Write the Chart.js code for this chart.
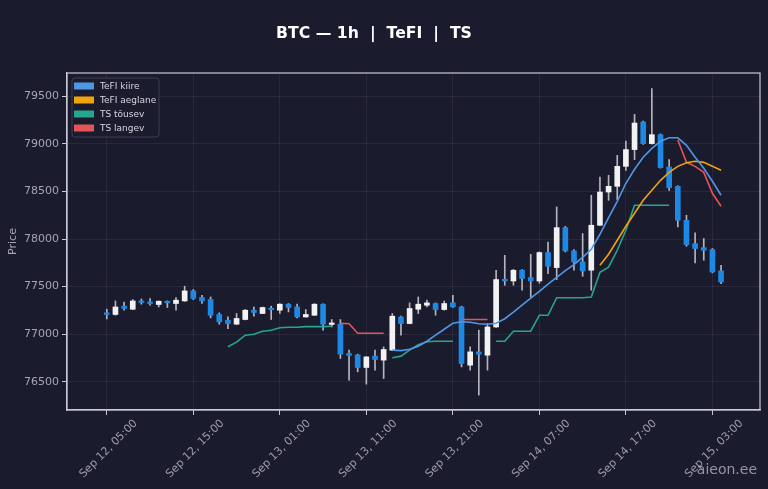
<!DOCTYPE html>
<html>
<head>
<meta charset="utf-8">
<script src="https://cdn.jsdelivr.net/npm/chart.js@4.4.1/dist/chart.umd.min.js"></script>
<style>
html, body { margin: 0; padding: 0; background: #1b1b2e; }
canvas { display: block; }
</style>
</head>
<body>
<canvas id="myChart" width="768" height="489"></canvas>
<script>
// hourly candles, Sep 12 05:00 .. Sep 15 04:00 (hour index from the first candle)
var hours = [0, 1, 2, 3, 4, 5, 6, 7, 8, 9, 10, 11, 12, 13, 14, 15, 16, 17, 18, 19, 20, 21, 22, 23,
    24, 25, 26, 27, 28, 29, 30, 31, 32, 33, 34, 35, 36, 37, 38, 39, 40, 41, 42, 43, 44, 45, 46, 47,
    48, 49, 50, 51, 52, 53, 54, 55, 56, 57, 58, 59, 60, 61, 62, 63, 64, 65, 66, 67, 68, 69, 70, 71];

var opens = [77224, 77207, 77294, 77262, 77349, 77339, 77312, 77346, 77322, 77349,
    77455, 77385, 77364, 77207, 77147, 77105, 77154, 77252, 77217, 77268,
    77252, 77315, 77286, 77181, 77199, 77315, 77102, 77105, 76797, 76782,
    76650, 76769, 76727, 76832, 77181, 77112, 77262, 77304, 77322, 77259,
    77329, 77286, 76674, 76814, 76779, 77076, 77577, 77559, 77672, 77595,
    77559, 77858, 77700, 78120, 77875, 77759, 77672, 78145, 78494, 78554,
    78764, 78940, 79230, 79003, 79097, 78757, 78554, 78197, 77952, 77910,
    77889, 77665];
var highs = [77262, 77349, 77336, 77364, 77370, 77375, 77350, 77350, 77385, 77504,
    77469, 77409, 77391, 77224, 77181, 77217, 77259, 77286, 77285, 77294,
    77322, 77322, 77315, 77259, 77320, 77320, 77154, 77154, 76832, 76790,
    76765, 76832, 76866, 77217, 77189, 77329, 77391, 77357, 77329, 77349,
    77409, 77294, 76866, 77042, 77112, 77672, 77829, 77680, 77680, 77840,
    77865, 77969, 78337, 78134, 77890, 78057, 78460, 78652, 78670, 78880,
    79030, 79310, 79240, 79580, 79105, 78835, 78560, 78250, 78064, 78005,
    77900, 77724];
var lows = [77160, 77199, 77252, 77259, 77315, 77304, 77286, 77280, 77252, 77345,
    77364, 77322, 77171, 77105, 77059, 77100, 77150, 77189, 77217, 77154,
    77217, 77234, 77171, 77178, 77195, 77042, 77076, 76744, 76517, 76604,
    76475, 76622, 76534, 76828, 76989, 77108, 77217, 77286, 77199, 77252,
    77282, 76656, 76622, 76359, 76622, 77070, 77514, 77514, 77462, 77391,
    77535, 77637, 77574, 77864, 77672, 77609, 77462, 78140, 78407, 78414,
    78722, 78835, 78995, 78998, 78745, 78512, 78127, 77924, 77749, 77777,
    77644, 77532];
var closes = [77207, 77286, 77270, 77349, 77333, 77322, 77346, 77329, 77357, 77455,
    77375, 77349, 77199, 77129, 77112, 77165, 77252, 77228, 77280, 77257,
    77315, 77280, 77181, 77207, 77315, 77105, 77118, 76790, 76776, 76650,
    76761, 76734, 76839, 77189, 77112, 77270, 77315, 77329, 77259, 77322,
    77286, 76692, 76814, 76790, 77076, 77574, 77559, 77672, 77585, 77559,
    77858, 77714, 78120, 77875, 77759, 77665, 78145, 78494, 78554, 78764,
    78940, 79219, 79003, 79097, 78751, 78541, 78197, 77942, 77900, 77882,
    77654, 77549];

// indicators, one value per hour (null = not drawn)
var tefiFast = [null, null, null, null, null, null, null, null, null, null, null, null,
    null, null, null, null, null, null, null, null, null, null, null, null,
    null, null, null, null, null, null, null, null, null, 76832, 76827, 76842,
    76874, 76926, 76989, 77052, 77115, 77131, 77126, 77110, 77105, 77115, 77162, 77231,
    77304, 77378, 77451, 77525, 77598, 77667, 77730, 77808, 77892, 78050, 78226, 78396,
    78586, 78733, 78859, 78953, 79027, 79064, 79064, 78985, 78859, 78743, 78607, 78460];
var tefiSlow = [null, null, null, null, null, null, null, null, null, null, null, null,
    null, null, null, null, null, null, null, null, null, null, null, null,
    null, null, null, null, null, null, null, null, null, null, null, null,
    null, null, null, null, null, null, null, null, null, null, null, null,
    null, null, null, null, null, null, null, null, null, 77724, 77840, 77987,
    78134, 78271, 78407, 78512, 78617, 78701, 78764, 78801, 78817, 78806, 78764, 78722];
var tsUp = [null, null, null, null, null, null, null, null, null, null, null, null,
    null, null, 76868, 76916, 76989, 77000, 77031, 77042, 77068, 77073, 77073, 77079,
    77079, 77079, 77084, null, null, null, null, null, null, 76753, 76769, 76832,
    76889, 76921, 76926, 76926, 76926, null, null, null, null, 76926, 76926, 77031,
    77031, 77031, 77199, 77199, 77383, 77383, 77383, 77383, 77390, 77651, 77704, 77882,
    78092, 78355, 78355, 78355, 78355, 78355, null, null, null, null, null, null];
var tsDown = [null, null, null, null, null, null, null, null, null, null, null, null,
    null, null, null, null, null, null, null, null, null, null, null, null,
    null, null, null, 77115, 77110, 77010, 77010, 77010, 77010, null, null, null,
    null, null, null, null, null, 77154, 77154, 77154, 77154, null, null, null,
    null, null, null, null, null, null, null, null, null, null, null, null,
    null, null, null, null, null, null, 79040, 78806, 78764, 78701, 78481, 78344];

var xTickHours = [0, 10, 20, 30, 40, 50, 60, 70];
var xTickLabels = ['Sep 12, 05:00', 'Sep 12, 15:00', 'Sep 13, 01:00', 'Sep 13, 11:00',
    'Sep 13, 21:00', 'Sep 14, 07:00', 'Sep 14, 17:00', 'Sep 15, 03:00'];
var yTicks = [76500, 77000, 77500, 78000, 78500, 79000, 79500];

var BG = '#1b1b2e';
var UP = '#f2f2f2';
var DOWN = '#1e88e5';

var bodies = hours.map(function (h, i) { return [opens[i], closes[i]]; });
var wicks = hours.map(function (h, i) { return [lows[i], highs[i]]; });
var bodyColors = hours.map(function (h, i) { return closes[i] >= opens[i] ? UP : DOWN; });

var chartDecor = {
    id: 'chartDecor',
    beforeDraw: function (chart) {
        var ctx = chart.ctx;
        ctx.save();
        ctx.fillStyle = BG;
        ctx.fillRect(0, 0, chart.width, chart.height);
        ctx.restore();
    },
    afterDraw: function (chart) {
        var ctx = chart.ctx;
        var a = chart.chartArea;
        ctx.save();
        // frame
        ctx.strokeStyle = '#c8c8d8';
        ctx.lineWidth = 1.2;
        ctx.strokeRect(a.left, a.top, a.right - a.left, a.bottom - a.top);

        // title
        ctx.fillStyle = '#ffffff';
        ctx.font = 'bold 15.7px "DejaVu Sans"';
        ctx.textAlign = 'center';
        ctx.textBaseline = 'alphabetic';
        ctx.fillText('BTC \u2014 1h  |  TeFI  |  TS', 374, 38);

        // legend
        var lx = a.left + 5, ly = a.top + 5, lw = 87, lh = 59;
        ctx.beginPath();
        ctx.roundRect(lx, ly, lw, lh, 3);
        ctx.fillStyle = 'rgba(27, 27, 46, 0.85)';
        ctx.fill();
        ctx.strokeStyle = '#3c3e56';
        ctx.lineWidth = 1;
        ctx.stroke();
        ctx.font = '9px "DejaVu Sans"';
        ctx.textAlign = 'left';
        ctx.textBaseline = 'middle';
        var items = chart.data.datasets.filter(function (d) { return d.type === 'line'; });
        items.forEach(function (d, i) {
            var cy = ly + 8 + i * 14;
            ctx.fillStyle = d.borderColor;
            ctx.fillRect(lx + 2, cy - 3.5, 20, 7);
            ctx.fillStyle = '#d6d6e0';
            ctx.fillText(d.label, lx + 28, cy + 0.5);
        });

        // watermark
        ctx.font = '14px "DejaVu Sans"';
        ctx.textAlign = 'right';
        ctx.textBaseline = 'alphabetic';
        ctx.fillStyle = 'rgba(190, 190, 205, 0.75)';
        ctx.fillText('aieon.ee', 757, 474);
        ctx.restore();
    }
};

function lineSet(label, data, color) {
    return {
        type: 'line',
        label: label,
        data: data,
        borderColor: color,
        borderWidth: 1.6,
        pointRadius: 0,
        spanGaps: false,
        tension: 0,
        order: 0
    };
}

Chart.defaults.font.family = '"DejaVu Sans"';
Chart.defaults.color = '#a4a4b4';

var myChart = new Chart(document.getElementById('myChart'), {
    data: {
        labels: hours,
        datasets: [
            lineSet('TeFI kiire', tefiFast, '#4f97e6'),
            lineSet('TeFI aeglane', tefiSlow, '#f0a30a'),
            lineSet('TS t\u00f5usev', tsUp, '#26a68e'),
            lineSet('TS langev', tsDown, '#e35454'),
            {
                type: 'bar',
                label: 'body',
                data: bodies,
                backgroundColor: bodyColors,
                barThickness: 5,
                minBarLength: 1.5,
                grouped: false,
                order: 1
            },
            {
                type: 'bar',
                label: 'wick',
                data: wicks,
                backgroundColor: '#b4b4bf',
                barThickness: 1,
                grouped: false,
                order: 2
            }
        ]
    },
    options: {
        responsive: false,
        animation: false,
        layout: {
            padding: { top: 73, right: 8, left: 0, bottom: 0 }
        },
        plugins: {
            legend: { display: false },
            tooltip: { enabled: false }
        },
        scales: {
            x: {
                type: 'linear',
                min: -4.6,
                max: 75.5,
                offset: false,
                afterBuildTicks: function (scale) {
                    scale.ticks = xTickHours.map(function (v) { return { value: v }; });
                },
                afterFit: function (scale) { scale.height = 79; },
                ticks: {
                    autoSkip: false,
                    minRotation: 45,
                    maxRotation: 45,
                    padding: 2,
                    labelOffset: 29,
                    color: '#9c9cad',
                    font: { size: 11 },
                    callback: function (value) {
                        return xTickLabels[xTickHours.indexOf(value)];
                    }
                },
                grid: {
                    offset: false,
                    color: 'rgba(255, 255, 255, 0.06)',
                    tickColor: '#c8c8d8',
                    tickLength: 5
                },
                border: { color: '#c8c8d8', width: 1.2 }
            },
            y: {
                min: 76203,
                max: 79745,
                afterBuildTicks: function (scale) {
                    scale.ticks = yTicks.map(function (v) { return { value: v }; });
                },
                afterFit: function (scale) { scale.width = 67; },
                ticks: {
                    padding: 3,
                    color: '#a4a4b4',
                    font: { size: 11 },
                    callback: function (value) { return String(value); }
                },
                grid: {
                    color: 'rgba(255, 255, 255, 0.06)',
                    tickColor: '#c8c8d8',
                    tickLength: 5
                },
                border: { color: '#c8c8d8', width: 1.2 },
                title: {
                    display: true,
                    text: 'Price',
                    color: '#a4a4b4',
                    font: { size: 11 },
                    padding: { top: 7, bottom: 0 }
                }
            }
        }
    },
    plugins: [chartDecor]
});
</script>
</body>
</html>
